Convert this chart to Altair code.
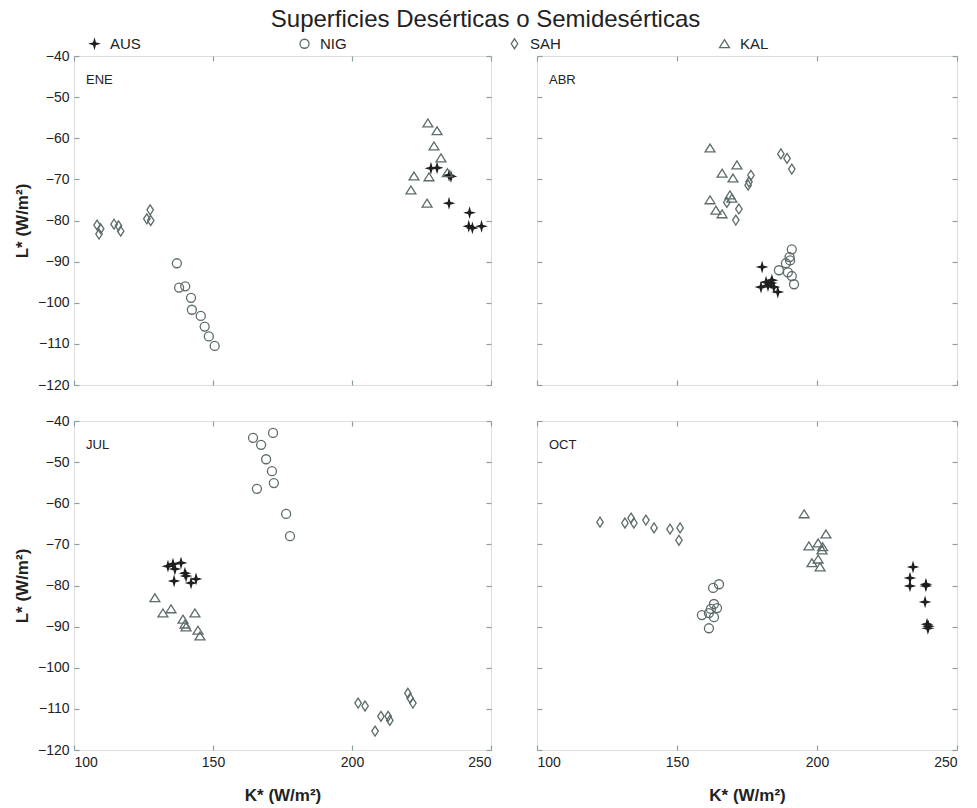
import altair as alt
import pandas as pd

MONTHS = ["ENE", "ABR", "JUL", "OCT"]
SERIES = ["AUS", "NIG", "SAH", "KAL"]
X_TICKS = [100, 150, 200, 250]
Y_TICKS = [-40, -50, -60, -70, -80, -90, -100, -110, -120]

# ---- ENE ----
ENE_AUS_K = [228.4, 230.6, 234.9, 235.6, 234.9, 242.3, 242.0, 243.3, 246.6]
ENE_AUS_L = [-67.3, -67.2, -69.0, -69.3, -75.8, -78.1, -81.4, -81.8, -81.4]
ENE_NIG_K = [137.0, 137.8, 140.0, 142.1, 142.4, 145.6, 147.0, 148.5, 150.6]
ENE_NIG_L = [-90.4, -96.3, -96.0, -98.8, -101.7, -103.2, -105.8, -108.2, -110.5]
ENE_SAH_K = [108.3, 109.6, 109.0, 114.4, 116.0, 116.8, 127.4, 126.2, 127.6]
ENE_SAH_L = [-81.1, -82.0, -83.3, -80.9, -81.3, -82.6, -77.4, -79.6, -80.0]
ENE_KAL_K = [227.3, 230.6, 229.5, 232.0, 222.3, 227.7, 234.3, 221.2, 227.0]
ENE_KAL_L = [-56.3, -58.2, -61.9, -64.8, -69.2, -69.4, -68.4, -72.6, -75.8]

# ---- ABR ----
ABR_AUS_K = [180.4, 180.0, 181.8, 183.6, 184.6, 186.0, 183.9, 182.5]
ABR_AUS_L = [-91.3, -96.2, -95.0, -95.2, -96.2, -97.4, -94.5, -95.8]
ABR_NIG_K = [191.0, 190.2, 188.9, 186.4, 189.6, 191.0, 191.8, 190.4]
ABR_NIG_L = [-87.0, -88.9, -90.4, -92.1, -92.6, -93.5, -95.5, -89.7]
ABR_SAH_K = [187.1, 189.3, 191.0, 176.4, 175.7, 175.4, 172.1, 171.0, 167.8]
ABR_SAH_L = [-63.8, -64.9, -67.5, -69.0, -70.6, -71.4, -77.2, -79.9, -75.6]
ABR_KAL_K = [161.8, 171.4, 166.1, 170.0, 168.9, 161.8, 163.9, 166.1, 169.6]
ABR_KAL_L = [-62.4, -66.5, -68.5, -69.7, -73.8, -75.0, -77.5, -78.4, -74.6]

# ---- JUL ----
JUL_AUS_K = [133.8, 135.6, 138.5, 136.3, 139.9, 140.3, 136.0, 142.1, 143.9]
JUL_AUS_L = [-75.3, -74.8, -74.5, -76.0, -77.0, -77.7, -78.9, -79.4, -78.4]
JUL_NIG_K = [171.6, 164.4, 167.3, 169.1, 171.2, 171.9, 165.8, 176.3, 177.7]
JUL_NIG_L = [-42.9, -44.1, -45.8, -49.3, -52.2, -55.1, -56.5, -62.6, -68.0]
JUL_SAH_K = [202.2, 204.7, 220.1, 220.9, 221.9, 210.4, 213.0, 213.6, 208.3]
JUL_SAH_L = [-108.6, -109.3, -106.2, -107.4, -108.6, -111.8, -111.8, -112.8, -115.4]
JUL_KAL_K = [129.1, 132.0, 134.9, 143.5, 139.2, 139.9, 140.3, 144.6, 145.3]
JUL_KAL_L = [-83.0, -86.7, -85.7, -86.7, -88.2, -89.4, -90.1, -90.9, -92.3]

# ---- OCT ----
OCT_AUS_K = [234.3, 233.2, 233.2, 238.9, 238.9, 238.6, 239.3, 239.6, 239.8]
OCT_AUS_L = [-75.5, -78.2, -80.1, -79.7, -80.1, -84.0, -89.4, -90.4, -89.9]
OCT_NIG_K = [165.0, 162.9, 163.2, 164.3, 162.1, 161.4, 158.9, 163.2, 161.4]
OCT_NIG_L = [-79.7, -80.6, -84.5, -85.5, -85.7, -86.7, -87.2, -87.7, -90.4]
OCT_SAH_K = [122.5, 131.4, 133.6, 134.6, 138.9, 141.8, 147.5, 151.1, 150.7]
OCT_SAH_L = [-64.6, -64.8, -63.6, -64.8, -64.1, -66.0, -66.3, -66.0, -69.0]
OCT_KAL_K = [195.4, 203.2, 197.1, 200.4, 201.8, 198.2, 200.4, 201.1, 202.0]
OCT_KAL_L = [-62.6, -67.5, -70.4, -69.7, -71.4, -74.5, -73.6, -75.5, -70.6]

DATA = {
    "ENE": {"AUS": (ENE_AUS_K, ENE_AUS_L), "NIG": (ENE_NIG_K, ENE_NIG_L),
            "SAH": (ENE_SAH_K, ENE_SAH_L), "KAL": (ENE_KAL_K, ENE_KAL_L)},
    "ABR": {"AUS": (ABR_AUS_K, ABR_AUS_L), "NIG": (ABR_NIG_K, ABR_NIG_L),
            "SAH": (ABR_SAH_K, ABR_SAH_L), "KAL": (ABR_KAL_K, ABR_KAL_L)},
    "JUL": {"AUS": (JUL_AUS_K, JUL_AUS_L), "NIG": (JUL_NIG_K, JUL_NIG_L),
            "SAH": (JUL_SAH_K, JUL_SAH_L), "KAL": (JUL_KAL_K, JUL_KAL_L)},
    "OCT": {"AUS": (OCT_AUS_K, OCT_AUS_L), "NIG": (OCT_NIG_K, OCT_NIG_L),
            "SAH": (OCT_SAH_K, OCT_SAH_L), "KAL": (OCT_KAL_K, OCT_KAL_L)},
}

rows = []
for m in MONTHS:
    for s in SERIES:
        ks, ls = DATA[m][s]
        for k, l in zip(ks, ls):
            rows.append({"mes": m, "serie": s, "K": k, "L": l})
df = pd.DataFrame(rows)

FONT = "Liberation Sans, Arial, sans-serif"
FRAME = "#8a9f9f"
MARKC = "#5c6b6b"
DARK = "#1e1e1e"

STAR = "M0,-0.9L0.2,-0.2L0.9,0L0.2,0.2L0,0.9L-0.2,0.2L-0.9,0L-0.2,-0.2Z"
DIAM = "M0,-1.1L0.72,0L0,1.1L-0.72,0Z"
TRI = "M0,-0.9L1.1,0.85L-1.1,0.85Z"

legend = alt.Legend(
    title=None, orient="none", direction="horizontal", columns=4,
    legendX=13, legendY=-20, gridAlign="all", columnPadding=155,
    labelFontSize=15, labelFont=FONT, labelColor="#222",
    symbolSize=81, symbolStrokeWidth=1.3, labelOffset=8,
)
shape_scale = alt.Scale(domain=SERIES, range=[STAR, "circle", DIAM, TRI])
stroke_scale = alt.Scale(domain=SERIES, range=[DARK, MARKC, MARKC, MARKC])
fill_scale = alt.Scale(domain=SERIES, range=[DARK, "transparent", "transparent", "transparent"])

XDOM = alt.Scale(domain=[100, 250], nice=False, zero=False)
YDOM = alt.Scale(domain=[-120, -40], nice=False, zero=False)

common_axis = dict(domain=False, ticks=True, tickSize=5, offset=-5, tickColor=FRAME,
                   tickWidth=1.2, grid=False, labelFontSize=14, labelFont=FONT,
                   labelColor="#222", labelPadding=5, minExtent=0)


def panel(m, col, row, width):
    sub = df[df["mes"] == m]
    xaxis = alt.Axis(orient="bottom", values=X_TICKS, labels=(row == 1),
                     title=("K* (W/m²)" if row == 1 else None),
                     titleFontSize=17, titleFont=FONT, titleFontWeight="bold",
                     titleColor="#222", titlePadding=18, **common_axis)
    yaxis = alt.Axis(orient="left", values=Y_TICKS, labels=(col == 0),
                     title=("L* (W/m²)" if col == 0 else None),
                     titleFontSize=17, titleFont=FONT, titleFontWeight="bold",
                     titleColor="#222", titlePadding=6, **common_axis)
    pts = alt.Chart(sub).mark_point(opacity=1, size=81, strokeWidth=1.3).encode(
        x=alt.X("K:Q", scale=XDOM, axis=xaxis),
        y=alt.Y("L:Q", scale=YDOM, axis=yaxis),
        shape=alt.Shape("serie:N", scale=shape_scale, legend=legend),
        stroke=alt.Stroke("serie:N", scale=stroke_scale, legend=legend),
        fill=alt.Fill("serie:N", scale=fill_scale, legend=legend),
    )
    ax2 = dict(common_axis)
    ax2.update(labels=False, title=None)
    ghost = alt.Chart(sub).mark_point(opacity=0).encode(
        x=alt.X("K:Q", scale=XDOM, axis=alt.Axis(orient="top", values=X_TICKS, **ax2)),
        y=alt.Y("L:Q", scale=YDOM, axis=alt.Axis(orient="right", values=Y_TICKS, **ax2)),
    )
    lab = alt.Chart(pd.DataFrame({"t": [m]})).mark_text(
        align="left", baseline="middle", fontSize=13, font=FONT, color="#222"
    ).encode(x=alt.value(12), y=alt.value(24), text="t:N")
    return alt.layer(pts, ghost, lab).resolve_axis(x="independent", y="independent").properties(
        width=width, height=329)


top = alt.hconcat(panel("ENE", 0, 0, 417), panel("ABR", 1, 0, 420), spacing=42)
bot = alt.hconcat(panel("JUL", 0, 1, 417), panel("OCT", 1, 1, 420), spacing=42)

chart = alt.vconcat(top, bot, spacing=20).properties(
    title=alt.TitleParams("Superficies Desérticas o Semidesérticas", fontSize=24, font=FONT,
                          fontWeight="normal", anchor="middle", color="#222", offset=4),
    padding={"left": 12, "top": 8, "right": 5, "bottom": 2},
).configure_view(stroke=FRAME, strokeWidth=1.5).configure(background="white")

chart.save("out.html", embed_options={"renderer": "svg", "actions": False})
